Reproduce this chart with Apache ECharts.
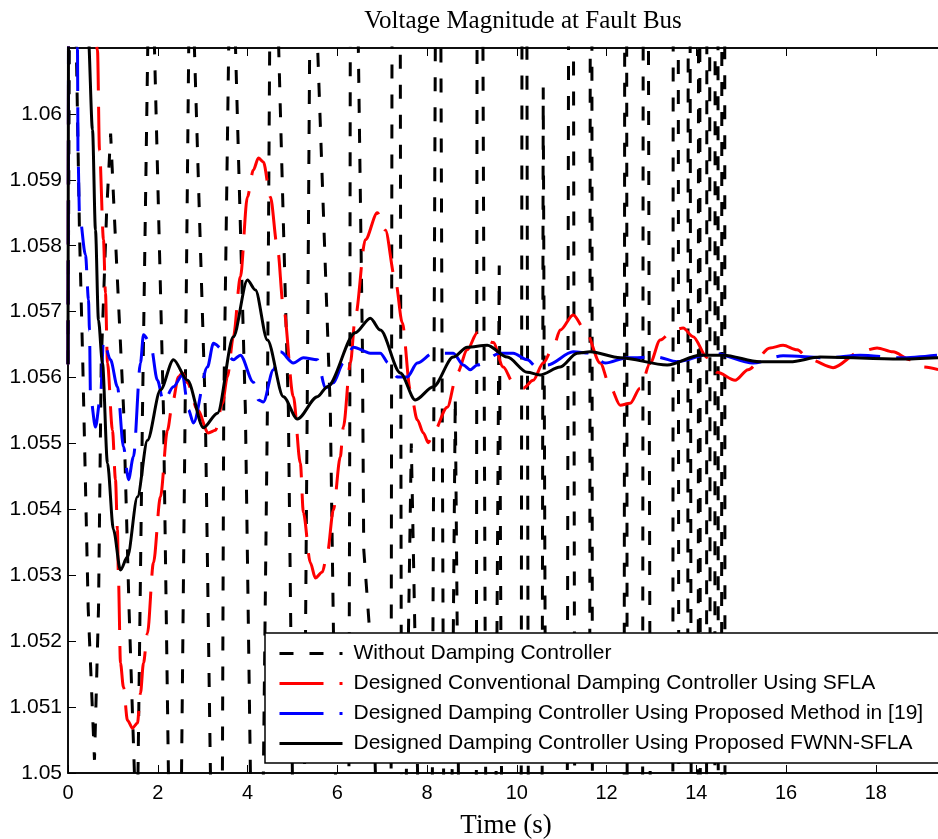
<!DOCTYPE html>
<html>
<head>
<meta charset="utf-8">
<script src="https://cdn.jsdelivr.net/npm/echarts@6/dist/echarts.min.js"></script>
<style>
  html, body { margin: 0; padding: 0; background: #fff; }
  #chart { width: 938px; height: 839px; }
</style>
</head>
<body>
<div id="chart"></div>
<script>
// Bus voltage after the fault, four controller cases. Each entry is [time (s), voltage (pu)].

const seriesNames = [
  'Without Damping Controller',
  'Designed Conventional Damping Controller Using SFLA',
  'Designed Damping Controller Using Proposed Method in [19]',
  'Designed Damping Controller Using Proposed FWNN-SFLA'
];

const xTickLabels = ['0', '2', '4', '6', '8', '10', '12', '14', '16', '18', '20'];
const yTickLabels = ['1.05', '1.051', '1.052', '1.053', '1.054', '1.055', '1.056', '1.057', '1.058', '1.059', '1.06', '1.061'];

// Undamped case: growing oscillation that swings far past the plotted band
const voltWithout = [
  [0, 1.0562], [0.06, 1.066], [0.256, 1.0582], [0.33, 1.0562], [0.45, 1.0525], [0.59, 1.0502],
  [0.68, 1.0525], [0.74, 1.0562], [0.86, 1.0585], [0.95, 1.0597], [1.03, 1.0585], [1.24, 1.0555],
  [1.36, 1.0525], [1.48, 1.0500], [1.53, 1.0494], [1.56, 1.0500], [1.66, 1.0555], [1.777, 1.0610],
  [1.85, 1.0635], [1.927, 1.0610], [2.127, 1.0555], [2.238, 1.0500], [2.40, 1.0460], [2.53, 1.0500],
  [2.69, 1.0610], [2.75, 1.0635], [2.817, 1.0610], [3.06, 1.0555], [3.174, 1.0500], [3.31, 1.0460],
  [3.441, 1.0500], [3.47, 1.0555], [3.581, 1.0610], [3.66, 1.0640], [3.733, 1.0610], [3.953, 1.0555],
  [4.065, 1.0500], [4.21, 1.0450], [4.354, 1.0500], [4.443, 1.0555], [4.494, 1.0610], [4.59, 1.0650],
  [4.695, 1.0610], [4.911, 1.0555], [5.00, 1.0500], [5.14, 1.0440], [5.27, 1.0500], [5.33, 1.0555],
  [5.385, 1.0610], [5.47, 1.0660], [5.563, 1.0610], [5.846, 1.0555], [5.96, 1.0500], [6.10, 1.0430],
  [6.26, 1.0500], [6.28, 1.0555], [6.29, 1.0610], [6.38, 1.0670], [6.47, 1.0610], [6.56, 1.0565],
  [6.59, 1.0534], [6.79, 1.0515], [6.85, 1.0500], [7.05, 1.0440], [7.20, 1.0500], [7.22, 1.0610],
  [7.31, 1.0680], [7.405, 1.0610], [7.43, 1.0500], [7.50, 1.0465], [7.54, 1.0500], [7.65, 1.0550],
  [7.79, 1.0500], [7.95, 1.0450], [8.12, 1.0500], [8.185, 1.0610], [8.25, 1.0700], [8.31, 1.0610],
  [8.37, 1.0500], [8.45, 1.0470], [8.56, 1.0500], [8.63, 1.0557], [8.70, 1.0500], [8.82, 1.0450],
  [9.10, 1.0500], [9.115, 1.0610], [9.18, 1.0750], [9.247, 1.0610], [9.307, 1.0500], [9.37, 1.0470],
  [9.54, 1.0500], [9.61, 1.0577], [9.66, 1.0500], [9.78, 1.0450], [10.10, 1.0500], [10.116, 1.0610],
  [10.17, 1.0780], [10.227, 1.0610], [10.256, 1.0500], [10.33, 1.0450], [10.566, 1.0500], [10.59, 1.0604],
  [10.643, 1.0500], [10.85, 1.0450], [11.127, 1.0500], [11.154, 1.0610], [11.20, 1.0800], [11.265, 1.0610],
  [11.29, 1.0500], [11.45, 1.0400], [11.626, 1.0500], [11.637, 1.0610], [11.66, 1.0700], [11.675, 1.0610],
  [11.685, 1.0500], [12.2, 1.0350], [12.394, 1.0500], [12.405, 1.0610], [12.43, 1.0700], [12.45, 1.0610],
  [12.46, 1.0500], [12.7, 1.0350], [12.806, 1.0500], [12.817, 1.0610], [12.9, 1.0800], [12.935, 1.0610],
  [12.973, 1.0500], [13.2, 1.0300], [13.479, 1.0500], [13.486, 1.0610], [13.53, 1.0800], [13.60, 1.0610],
  [13.61, 1.0500], [13.72, 1.0300], [13.81, 1.0500], [13.82, 1.0610], [13.84, 1.0800], [13.864, 1.0610],
  [13.886, 1.0500], [13.99, 1.0300], [14.045, 1.0500], [14.05, 1.0610], [14.06, 1.0800], [14.08, 1.0610],
  [14.09, 1.0500], [14.17, 1.0300], [14.23, 1.0500], [14.236, 1.0610], [14.27, 1.0800], [14.30, 1.0610],
  [14.31, 1.0500], [14.36, 1.0300], [14.415, 1.0500], [14.42, 1.0610], [14.45, 1.0800], [14.485, 1.0610],
  [14.49, 1.0500], [14.53, 1.0300], [14.565, 1.0500], [14.57, 1.0610], [14.60, 1.0800], [14.635, 1.0610],
  [14.64, 1.0500], [14.70, 1.0200]
];

// Conventional SFLA-tuned damping controller
const voltSFLA = [
  [0, 1.0562], [0.08, 1.08], [0.657, 1.06097], [0.702, 1.05945], [0.791, 1.05809], [0.835, 1.05728],
  [0.880, 1.05622], [0.991, 1.0552], [1.058, 1.05445], [1.102, 1.05369], [1.125, 1.05293], [1.169, 1.05167],
  [1.236, 1.0513], [1.325, 1.0508], [1.437, 1.05068], [1.548, 1.05076], [1.615, 1.05121], [1.682, 1.05167],
  [1.771, 1.05212], [1.904, 1.05319], [2.060, 1.05419], [2.216, 1.0552], [2.327, 1.05561], [2.461, 1.05601],
  [2.550, 1.05607], [2.661, 1.05592], [2.884, 1.05551], [3.129, 1.05516], [3.285, 1.0552], [3.441, 1.05561],
  [3.552, 1.05601], [3.686, 1.05662], [3.842, 1.05753], [3.998, 1.05874], [4.131, 1.05915], [4.243, 1.05933],
  [4.354, 1.05927], [4.510, 1.05874], [4.666, 1.05798], [4.800, 1.05707], [5.022, 1.05571], [5.178, 1.0547],
  [5.245, 1.05395], [5.401, 1.05319], [5.512, 1.05296], [5.668, 1.05305], [5.780, 1.05334], [5.913, 1.05399],
  [6.069, 1.0548], [6.136, 1.05525], [6.292, 1.05622], [6.403, 1.05692], [6.626, 1.05809], [6.893, 1.0585],
  [7.071, 1.05824], [7.294, 1.05748], [7.450, 1.05683], [7.628, 1.05581], [7.784, 1.05536], [7.918, 1.05516],
  [8.029, 1.05501], [8.140, 1.05516], [8.452, 1.05555], [8.675, 1.05607], [8.898, 1.05642], [9.120, 1.05668],
  [9.477, 1.05653], [9.699, 1.05616], [9.922, 1.05592], [10.145, 1.05584], [10.367, 1.05596], [10.590, 1.05622],
  [10.813, 1.05646], [10.969, 1.05672], [11.258, 1.05695], [11.526, 1.05672], [11.860, 1.05622], [12.082, 1.05586],
  [12.305, 1.05558], [12.528, 1.05561], [12.751, 1.05584], [12.973, 1.05622], [13.196, 1.05657], [13.486, 1.05672],
  [13.708, 1.05675], [13.931, 1.05662], [14.243, 1.0563], [14.465, 1.05608], [14.866, 1.05596], [15.156, 1.05612],
  [15.646, 1.05645], [15.935, 1.05649], [16.247, 1.05642], [16.537, 1.05627], [17.049, 1.05615], [17.650, 1.05639],
  [18.029, 1.05645], [18.385, 1.05639], [18.764, 1.05627], [19.053, 1.05616], [19.39, 1.05612]
];

// Damping controller from reference [19]
const voltRef19 = [
  [0, 1.0562], [0.07, 1.08], [0.212, 1.06097], [0.223, 1.05938], [0.256, 1.05847], [0.390, 1.05786],
  [0.457, 1.05718], [0.479, 1.05672], [0.501, 1.05571], [0.612, 1.05525], [0.724, 1.05571], [0.791, 1.05657],
  [0.947, 1.05627], [1.102, 1.05586], [1.236, 1.05495], [1.347, 1.05445], [1.459, 1.0548], [1.615, 1.05622],
  [1.682, 1.05665], [1.837, 1.05652], [1.993, 1.05596], [2.127, 1.05563], [2.350, 1.05586], [2.550, 1.05604],
  [2.684, 1.05551], [2.795, 1.05531], [3.107, 1.05616], [3.241, 1.05652], [3.463, 1.05642], [3.686, 1.05627],
  [3.842, 1.05634], [4.131, 1.05593], [4.243, 1.05566], [4.354, 1.05563], [4.577, 1.05612], [4.733, 1.05639],
  [5.022, 1.05622], [5.245, 1.0563], [5.557, 1.05627], [5.735, 1.05584], [5.913, 1.05592], [6.136, 1.05622],
  [6.359, 1.05646], [6.737, 1.05637], [6.960, 1.05637], [7.138, 1.05622], [7.339, 1.05601], [7.561, 1.05601],
  [7.784, 1.05622], [8.140, 1.05637], [8.586, 1.05637], [8.808, 1.05619], [8.964, 1.05612], [9.120, 1.05619],
  [9.633, 1.05637], [9.922, 1.05637], [10.234, 1.05627], [10.457, 1.05615], [10.679, 1.05619], [11.258, 1.05639],
  [11.637, 1.05637], [11.971, 1.05622], [12.461, 1.0563], [13.129, 1.05631], [13.575, 1.05624], [14.376, 1.05637],
  [15.267, 1.05622], [15.935, 1.05633], [16.915, 1.0563], [17.650, 1.05634], [18.541, 1.0563], [19.365, 1.05634]
];

// Proposed FWNN-SFLA controller
const voltFWNN = [
  [0, 1.0562], [0.07, 1.08], [0.45, 1.0612], [0.546, 1.05976], [0.612, 1.05824], [0.679, 1.05687],
  [0.768, 1.05622], [0.880, 1.0547], [1.013, 1.05369], [1.169, 1.05308], [1.325, 1.05328], [1.548, 1.05419],
  [1.771, 1.05505], [2.060, 1.05581], [2.350, 1.05627], [2.661, 1.05596], [3.018, 1.05524], [3.330, 1.05546],
  [3.686, 1.05662], [3.998, 1.05748], [4.176, 1.05733], [4.443, 1.05657], [4.800, 1.05571], [5.111, 1.05537],
  [5.557, 1.05571], [5.780, 1.05586], [6.403, 1.05668], [6.737, 1.0569], [6.960, 1.05672], [7.405, 1.05607],
  [7.739, 1.05566], [8.140, 1.05586], [8.586, 1.05631], [8.898, 1.05646], [9.343, 1.05649], [9.788, 1.05631],
  [10.234, 1.05608], [10.523, 1.05604], [10.969, 1.05616], [11.347, 1.05637], [11.637, 1.05639], [12.305, 1.0563],
  [13.352, 1.05619], [14.087, 1.05634], [14.599, 1.05634], [15.423, 1.05624], [16.091, 1.05624], [16.759, 1.05631],
  [18.541, 1.05628], [19.39, 1.0563]
];

const X_MIN = 0, X_MAX = 20, X_STEP = 2;
const Y_MIN = 1.05, Y_MAX = 1.061, Y_STEP = 0.001;

const sansFont = 'Liberation Sans, Arial, sans-serif';
const serifFont = 'Liberation Serif, Times New Roman, serif';

const chart = echarts.init(document.getElementById('chart'), null, { renderer: 'canvas' });

const tickLabel = (labels, min, step) => (v) => {
  const i = Math.round((v - min) / step);
  return labels[i] !== undefined ? labels[i] : '';
};

const axisLineStyle = { color: '#000', width: 1.5 };
const tickStyle = { show: true, inside: true, length: 8, lineStyle: { color: '#000', width: 1 } };

chart.setOption({
  animation: false,
  backgroundColor: '#fff',
  graphic: [
    {
      type: 'text', x: 523, y: 21,
      style: {
        text: 'Voltage Magnitude at Fault Bus', fill: '#000',
        font: '25px ' + serifFont, align: 'center', verticalAlign: 'middle',
        textAlign: 'center', textVerticalAlign: 'middle'
      }
    },
    {
      type: 'text', x: 506, y: 826,
      style: {
        text: 'Time (s)', fill: '#000',
        font: '27px ' + serifFont, align: 'center', verticalAlign: 'middle',
        textAlign: 'center', textVerticalAlign: 'middle'
      }
    }
  ],
  grid: {
    left: 68, top: 48, width: 897.5, bottom: 66,
    outerBoundsMode: 'none',
    containLabel: false,
    show: true, borderColor: '#000', borderWidth: 1.5, backgroundColor: 'transparent'
  },
  legend: {
    data: seriesNames,
    orient: 'vertical',
    left: 265, top: 633,
    itemWidth: 63, itemHeight: 18, itemGap: 9,
    padding: [10, 40, 9, 13],
    backgroundColor: '#fff', borderColor: '#000', borderWidth: 1.5,
    selectedMode: false,
    lineStyle: { width: 3 },
    itemStyle: { color: 'transparent', borderWidth: 0, opacity: 0 },
    textStyle: { fontFamily: sansFont, fontSize: 21, color: '#000', padding: [0, 0, 0, 6] }
  },
  xAxis: [
    {
      type: 'value', position: 'bottom',
      min: X_MIN, max: X_MAX, interval: X_STEP,
      axisLine: { show: true, lineStyle: axisLineStyle },
      axisTick: tickStyle,
      axisLabel: {
        show: true, margin: 10, color: '#000', fontFamily: sansFont, fontSize: 20,
        formatter: tickLabel(xTickLabels, X_MIN, X_STEP)
      },
      splitLine: { show: false }
    },
    {
      type: 'value', position: 'top',
      min: X_MIN, max: X_MAX, interval: X_STEP,
      axisLine: { show: true, lineStyle: axisLineStyle },
      axisTick: tickStyle,
      axisLabel: { show: false },
      splitLine: { show: false }
    }
  ],
  yAxis: {
    type: 'value',
    min: Y_MIN, max: Y_MAX, interval: Y_STEP,
    axisLine: { show: true, lineStyle: axisLineStyle },
    axisTick: tickStyle,
    axisLabel: {
      show: true, margin: 6, color: '#000', fontFamily: sansFont, fontSize: 21,
      showMaxLabel: false,
      formatter: tickLabel(yTickLabels, Y_MIN, Y_STEP)
    },
    splitLine: { show: false }
  },
  series: [
    {
      name: seriesNames[0], type: 'line', data: voltWithout,
      symbol: 'none', showSymbol: false, clip: true, smooth: false, z: 2,
      itemStyle: { color: '#000' },
      lineStyle: { color: '#000', width: 3, type: [14, 16] }
    },
    {
      name: seriesNames[1], type: 'line', data: voltSFLA,
      symbol: 'none', showSymbol: false, clip: true, smooth: 0.3, smoothMonotone: 'x', z: 3,
      itemStyle: { color: '#ff0000' },
      lineStyle: { color: '#ff0000', width: 3, type: [44, 16] }
    },
    {
      name: seriesNames[2], type: 'line', data: voltRef19,
      symbol: 'none', showSymbol: false, clip: true, smooth: 0.3, smoothMonotone: 'x', z: 4,
      itemStyle: { color: '#0000ff' },
      lineStyle: { color: '#0000ff', width: 3, type: [44, 16] }
    },
    {
      name: seriesNames[3], type: 'line', data: voltFWNN,
      symbol: 'none', showSymbol: false, clip: true, smooth: 0.3, smoothMonotone: 'x', z: 5,
      itemStyle: { color: '#000' },
      lineStyle: { color: '#000', width: 3, type: 'solid' }
    }
  ]
});
</script>
</body>
</html>
